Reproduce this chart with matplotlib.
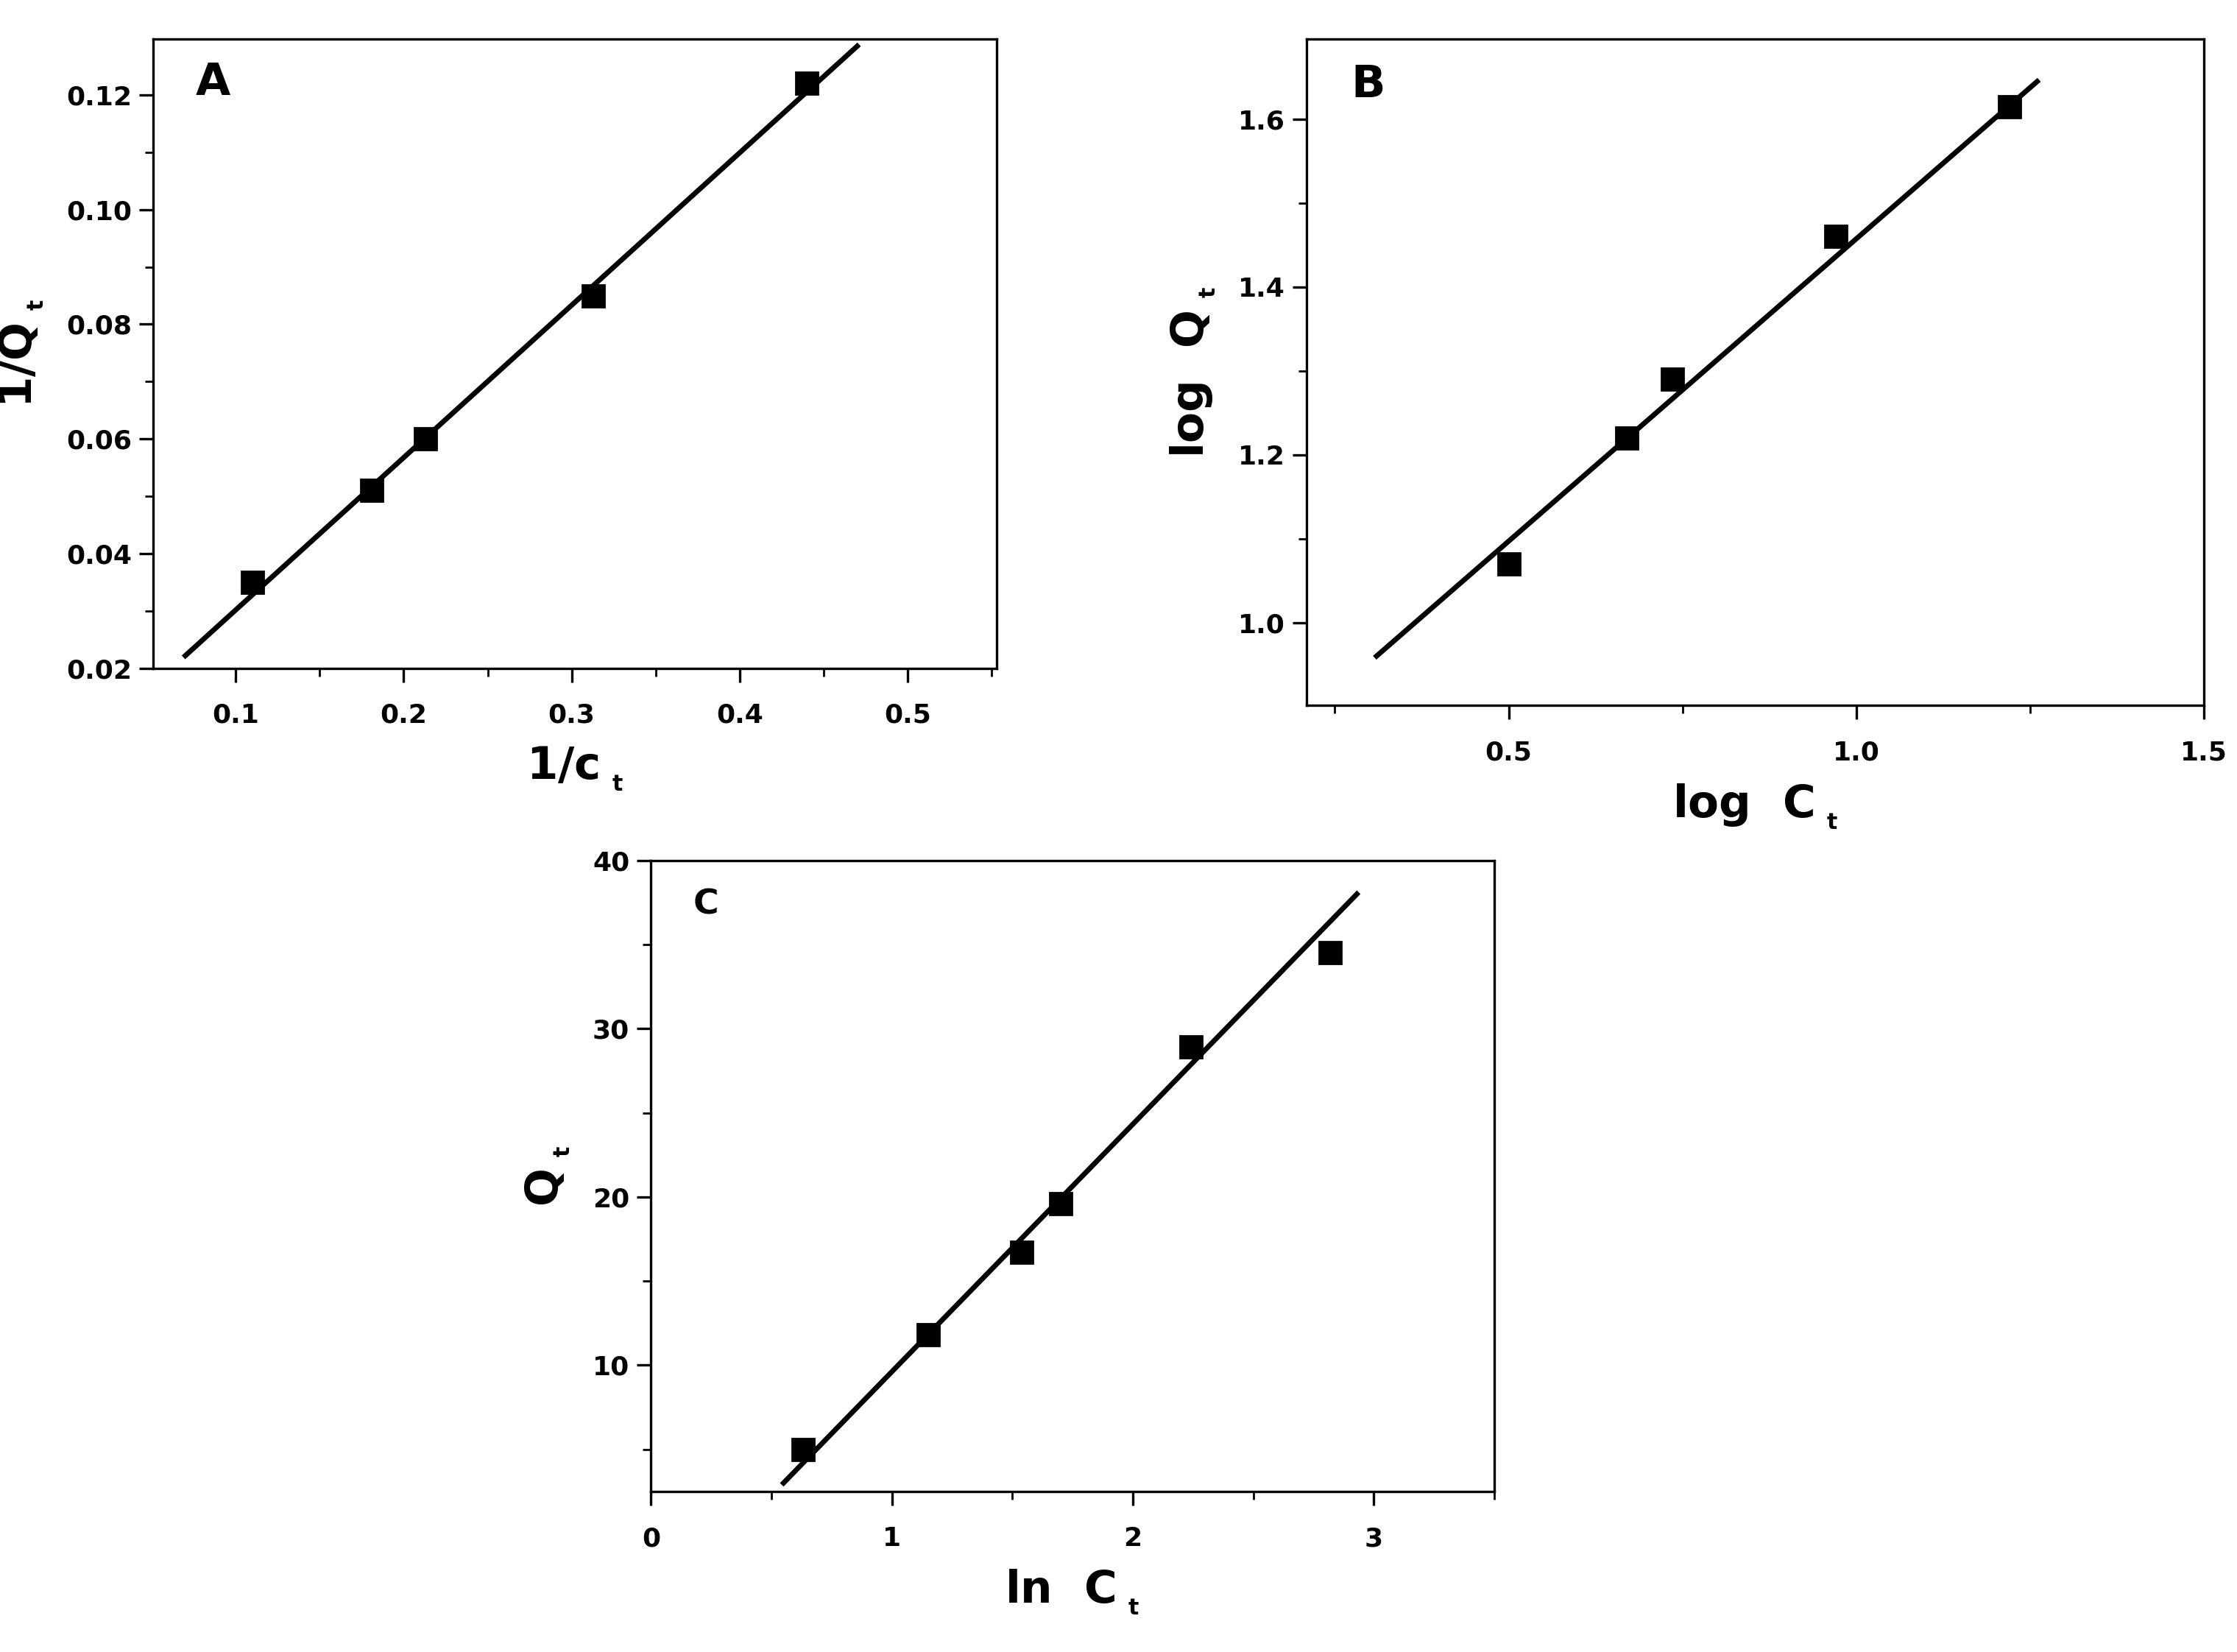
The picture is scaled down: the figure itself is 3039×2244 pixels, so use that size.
import matplotlib
matplotlib.use("Agg")
import matplotlib.pyplot as plt
from matplotlib.ticker import AutoMinorLocator

plt.rcParams['font.family'] = ['Liberation Sans Narrow', 'DejaVu Sans']
plt.rcParams['font.weight'] = 'bold'

# Panel A: 1/Qt vs 1/ct
a_x = [0.11, 0.181, 0.213, 0.313, 0.44]
a_y = [0.035, 0.051, 0.060, 0.085, 0.122]
a_fit_x = [0.07, 0.47]
a_fit_y = [0.0222, 0.1285]

# Panel B: log Qt vs log Ct
b_x = [0.5, 0.67, 0.735, 0.97, 1.22]
b_y = [1.07, 1.22, 1.29, 1.46, 1.615]
b_fit_x = [0.31, 1.26]
b_fit_y = [0.96, 1.645]

# Panel C: Qt vs ln Ct
c_x = [0.63, 1.15, 1.54, 1.70, 2.24, 2.82]
c_y = [5.0, 11.8, 16.7, 19.6, 28.9, 34.5]
c_fit_x = [0.55, 2.93]
c_fit_y = [3.0, 38.0]

W, H = 1560, 1152
fig = plt.figure(figsize=(15.195, 11.22), dpi=200)

def box(l, r, t, b):
    return [l / W, 1 - b / H, (r - l) / W, (b - t) / H]

def panel(rect, x, y, fx, fy, xlim, ylim, xt, yt, xlab, ylab, letter, fmt, lsize=22):
    ax = fig.add_axes(rect)
    ax.plot(fx, fy, color='black', lw=2.5)
    ax.plot(x, y, 's', color='black', ms=11)
    ax.set_xlim(xlim)
    ax.set_ylim(ylim)
    ax.set_xticks(xt)
    ax.set_yticks(yt)
    ax.set_xticklabels([fmt[0].format(v) for v in xt])
    ax.set_yticklabels([fmt[1].format(v) for v in yt])
    ax.xaxis.set_minor_locator(AutoMinorLocator(2))
    ax.yaxis.set_minor_locator(AutoMinorLocator(2))
    ax.tick_params(which='major', direction='out', length=7, width=1.2, labelsize=13)
    ax.tick_params(which='minor', direction='out', length=4, width=1.0)
    ax.tick_params(axis='x', pad=10)
    for s in ax.spines.values():
        s.set_linewidth(1.2)
    ax.set_xlabel(xlab, fontsize=22, fontweight='bold', labelpad=8)
    ax.set_ylabel(ylab, fontsize=22, fontweight='bold', labelpad=10)
    ax.text(0.05, 0.93, letter, transform=ax.transAxes, fontsize=lsize,
            fontweight='bold', va='center')
    return ax

sub = r'$_{\ \mathregular{_t}}$'
panel(box(107, 695, 27, 466), a_x, a_y, a_fit_x, a_fit_y,
      (0.051, 0.553), (0.02, 0.1298),
      [0.1, 0.2, 0.3, 0.4, 0.5], [0.02, 0.04, 0.06, 0.08, 0.10, 0.12],
      '1/c' + sub, '1/Q' + sub, 'A', ('{:.1f}', '{:.2f}'))

panel(box(911, 1537, 27, 492), b_x, b_y, b_fit_x, b_fit_y,
      (0.209, 1.5), (0.901, 1.696),
      [0.5, 1.0, 1.5], [1.0, 1.2, 1.4, 1.6],
      'log  C' + sub, 'log  Q' + sub, 'B', ('{:.1f}', '{:.1f}'))

panel(box(454, 1042, 600, 1040), c_x, c_y, c_fit_x, c_fit_y,
      (0, 3.5), (2.5, 40),
      [0, 1, 2, 3], [10, 20, 30, 40],
      'ln  C' + sub, 'Q' + sub, 'C', ('{:.0f}', '{:.0f}'), lsize=17)

fig.savefig('out.png', dpi=200)
